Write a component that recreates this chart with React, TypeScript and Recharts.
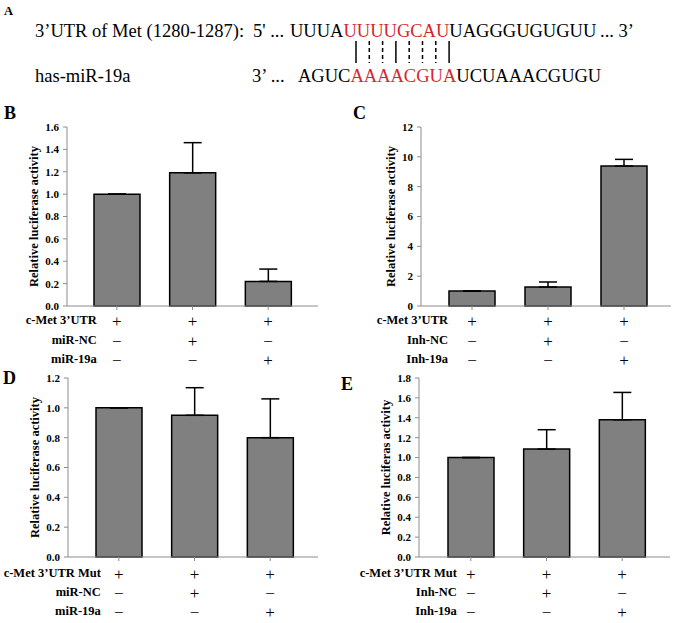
import React from "react";
import { BarChart, Bar, XAxis, YAxis, ErrorBar, Label } from "recharts";

const FONT = "Liberation Serif";

// three transfection groups per panel
const groups = ["group1", "group2", "group3"];

// +/− table under every panel (row x group)
const signs = [
  ["+", "+", "+"],
  ["−", "+", "−"],
  ["−", "−", "+"],
];

const bRows = ["c-Met 3’UTR", "miR-NC", "miR-19a"];
const bValues = [1.0, 1.19, 0.22];
const bErrors = [0, 0.27, 0.11];
const bTicks = [0, 0.2, 0.4, 0.6, 0.8, 1.0, 1.2, 1.4, 1.6];

const cRows = ["c-Met 3’UTR", "Inh-NC", "Inh-19a"];
const cValues = [1.0, 1.27, 9.38];
const cErrors = [0, 0.34, 0.45];
const cTicks = [0, 2, 4, 6, 8, 10, 12];

const dRows = ["c-Met 3’UTR Mut", "miR-NC", "miR-19a"];
const dValues = [1.0, 0.95, 0.8];
const dErrors = [0, 0.185, 0.26];
const dTicks = [0, 0.2, 0.4, 0.6, 0.8, 1.0, 1.2];

const eRows = ["c-Met 3’UTR Mut", "Inh-NC", "Inh-19a"];
const eValues = [1.0, 1.085, 1.38];
const eErrors = [0, 0.195, 0.275];
const eTicks = [0, 0.2, 0.4, 0.6, 0.8, 1.0, 1.2, 1.4, 1.6, 1.8];

// seed-region pairing: true = solid line, false = dashed
const pairing = [true, false, false, true, false, false, false, true];

const bold = { fontFamily: FONT, fontWeight: 700 };

function SignTick(props: any) {
  const { x, y, index, rows, gap, offsets } = props;
  return (
    <g>
      {rows.map((r: string, ri: number) => (
        <g key={ri}>
          {index === 0 && (
            <text
              x={x - gap}
              y={y + offsets[ri]}
              textAnchor="end"
              dominantBaseline="central"
              style={{ ...bold, fontSize: 12.5 }}
              fill="#000"
            >
              {r}
            </text>
          )}
          <text
            x={x}
            y={y + offsets[ri] + 1}
            textAnchor="middle"
            dominantBaseline="central"
            style={{ fontFamily: FONT, fontSize: 17 }}
            fill="#000"
          >
            {signs[ri][index]}
          </text>
        </g>
      ))}
    </g>
  );
}

function Panel(props: any) {
  const {
    left, top, width, height, margin, yWidth, xHeight, padding,
    values, errors, ticks, decimals, title, titleX, rows, gap, offsets,
  } = props;
  const data = groups.map((g, i) => ({
    name: g,
    value: values[i],
    err: [0, errors[i]],
  }));
  return (
    <div style={{ position: "absolute", left, top }}>
      <BarChart width={width} height={height} data={data} margin={margin}>
        <XAxis
          dataKey="name"
          type="category"
          padding={padding}
          height={xHeight}
          interval={0}
          tickSize={4}
          axisLine={{ stroke: "#8c8c8c" }}
          tickLine={{ stroke: "#8c8c8c" }}
          tick={(p: any) => (
            <SignTick {...p} rows={rows} gap={gap} offsets={offsets} />
          )}
        />
        <YAxis
          type="number"
          domain={[0, ticks[ticks.length - 1]]}
          ticks={ticks}
          width={yWidth}
          tickSize={4}
          tickMargin={4}
          tickFormatter={(v: number) => v.toFixed(decimals)}
          axisLine={{ stroke: "#8c8c8c" }}
          tickLine={{ stroke: "#8c8c8c" }}
          tick={{ fill: "#000", fontSize: 11, fontWeight: 700, fontFamily: FONT }}
        >
          <Label
            content={({ viewBox }: any) => (
              <text
                x={titleX}
                y={viewBox.y + viewBox.height / 2}
                transform={`rotate(-90, ${titleX}, ${viewBox.y + viewBox.height / 2})`}
                textAnchor="middle"
                dominantBaseline="central"
                style={{ ...bold, fontSize: 12.5 }}
                fill="#000"
              >
                {title}
              </text>
            )}
          />
        </YAxis>
        <Bar
          dataKey="value"
          fill="#808080"
          stroke="#000"
          strokeWidth={1.5}
          barSize={46}
          isAnimationActive={false}
        >
          <ErrorBar
            dataKey="err"
            direction="y"
            width={9}
            stroke="#000"
            strokeWidth={1.5}
            isAnimationActive={false}
          />
        </Bar>
      </BarChart>
    </div>
  );
}

export default function App() {
  const seqStyle = { fontFamily: FONT, fontSize: 18.5 };
  const red = "#d7262b";
  return (
    <div
      style={{
        position: "absolute",
        left: 0,
        top: 0,
        width: 675,
        height: 623,
        background: "#fff",
        overflow: "hidden",
        fontFamily: FONT,
      }}
    >
      <Panel
        left={0} top={100} width={340} height={280}
        margin={{ top: 27, right: 22, bottom: 10, left: 27 }}
        yWidth={40} xHeight={64} padding={{ left: 12, right: 12 }}
        values={bValues} errors={bErrors} ticks={bTicks} decimals={1}
        title="Relative luciferase activity" titleX={34}
        rows={bRows} gap={20} offsets={[8, 28, 47]}
      />
      <Panel
        left={340} top={100} width={335} height={280}
        margin={{ top: 27, right: 4, bottom: 10, left: 41 }}
        yWidth={40} xHeight={64} padding={{ left: 13, right: 9 }}
        values={cValues} errors={cErrors} ticks={cTicks} decimals={0}
        title="Relative luciferase activity" titleX={51}
        rows={cRows} gap={24} offsets={[8, 28, 47]}
      />
      <Panel
        left={0} top={350} width={340} height={273}
        margin={{ top: 28, right: 22, bottom: 0, left: 28 }}
        yWidth={40} xHeight={66} padding={{ left: 13, right: 10 }}
        values={dValues} errors={dErrors} ticks={dTicks} decimals={1}
        title="Relative luciferase activity" titleX={35}
        rows={dRows} gap={18} offsets={[10, 29, 48]}
      />
      <Panel
        left={340} top={350} width={335} height={273}
        margin={{ top: 28, right: 5, bottom: 0, left: 39 }}
        yWidth={40} xHeight={66} padding={{ left: 14, right: 10 }}
        values={eValues} errors={eErrors} ticks={eTicks} decimals={1}
        title="Relative luciferas activity" titleX={46}
        rows={eRows} gap={14} offsets={[10, 29, 48]}
      />
      <svg
        width={675}
        height={623}
        style={{ position: "absolute", left: 0, top: 0, pointerEvents: "none" }}
      >
        <g fill="#000">
          <text x={4} y={15} style={{ ...bold, fontSize: 12.5 }}>A</text>
          <text x={4} y={119} style={{ ...bold, fontSize: 18 }}>B</text>
          <text x={353} y={119} style={{ ...bold, fontSize: 18 }}>C</text>
          <text x={3} y={384} style={{ ...bold, fontSize: 18 }}>D</text>
          <text x={341} y={390} style={{ ...bold, fontSize: 18 }}>E</text>
        </g>
        <text style={seqStyle} x={35} y={37}>3’UTR of Met (1280-1287):</text>
        <text style={seqStyle} x={253} y={37}>5' ...</text>
        <text style={seqStyle} x={290} y={37}>
          UUUA<tspan fill={red}>UUUUGCAU</tspan>UAGGGUGUGUU
        </text>
        <text style={seqStyle} x={600} y={37}>... 3’</text>
        <text style={seqStyle} x={35} y={82}>has-miR-19a</text>
        <text style={seqStyle} x={252} y={82}>3’ ...</text>
        <text style={seqStyle} x={298} y={82}>
          AGUC<tspan fill={red}>AAAACGUA</tspan>UCUAAACGUGU
        </text>
        {pairing.map((solid, i) => (
          <line
            key={i}
            x1={356 + i * 13.3}
            x2={356 + i * 13.3}
            y1={41}
            y2={63}
            stroke="#000"
            strokeWidth={1.5}
            strokeDasharray={solid ? undefined : "4 3"}
          />
        ))}
      </svg>
    </div>
  );
}
